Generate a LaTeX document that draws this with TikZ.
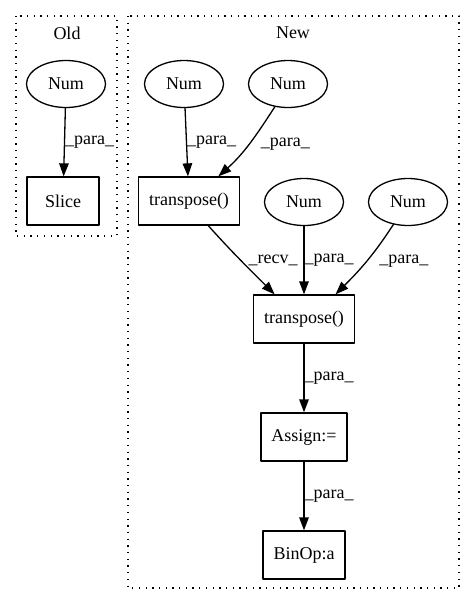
\documentclass[tikz,border=0pt]{standalone}
\usepackage{fontspec}
\setmainfont{Liberation Serif}
\usetikzlibrary{shapes.geometric,arrows.meta}
\begin{document}
\begin{tikzpicture}[x=1pt,y=1pt,line cap=round,line join=round,
  font=\fontsize{18}{21}\selectfont,
  num/.style={ellipse,draw,line width=1.3pt,minimum width=79pt,minimum height=47pt,inner sep=0pt},
  op/.style={rectangle,draw,line width=1.3pt,minimum width=72pt,minimum height=48pt,inner xsep=10.5pt},
  edge/.style={line width=1.3pt,-{Triangle[length=13pt,width=9.5pt]}},
  lbl/.style={inner sep=0pt},
  cluster/.style={line width=1.3pt,line cap=butt,dash pattern=on 1.3pt off 5.4pt}]
  \useasboundingbox (0,0) rectangle (475,-606);
  % clusters
  \draw[cluster] (16,-16) rectangle (117,-236);
  \draw[cluster] (128,-16) rectangle (459,-588);
  \node (old) at (67,-33) {Old};
  \node (new) at (293,-33) {New};
  % old
  \node[num] (n0) at (66,-84) {Num};
  \node[op] (slice) at (63,-201) {Slice};
  % new
  \node[num] (n1) at (184,-84) {Num};
  \node[num] (n2) at (288,-84) {Num};
  \node[op] (t1) at (189,-201) {transpose()};
  \node[num] (n3) at (304,-202) {Num};
  \node[num] (n4) at (408,-202) {Num};
  \node[op] (t2) at (304,-319) {transpose()};
  \node[op] (assign) at (304,-437) {Assign:=};
  \node[op] (binop) at (304,-555) {BinOp:a};
  % edges
  \draw[edge] (n0) -- node[lbl,right] {\_para\_} (slice);
  \draw[edge] (n1) -- node[lbl,right] {\_para\_} (t1);
  \draw[edge] (n2.240) to[out=237,in=42] node[lbl,right=11pt] {\_para\_} (t1.40);
  \draw[edge] (t1.308) to[out=-48,in=135] node[lbl,right=7pt] {\_recv\_} (t2.140);
  \draw[edge] (n3) -- node[lbl,right] {\_para\_} (t2);
  \draw[edge] (n4.237) to[out=237,in=45] node[lbl,right=12pt] {\_para\_} (t2.38);
  \draw[edge] (t2) -- node[lbl,right] {\_para\_} (assign);
  \draw[edge] (assign) -- node[lbl,right] {\_para\_} (binop);
\end{tikzpicture}
\end{document}
